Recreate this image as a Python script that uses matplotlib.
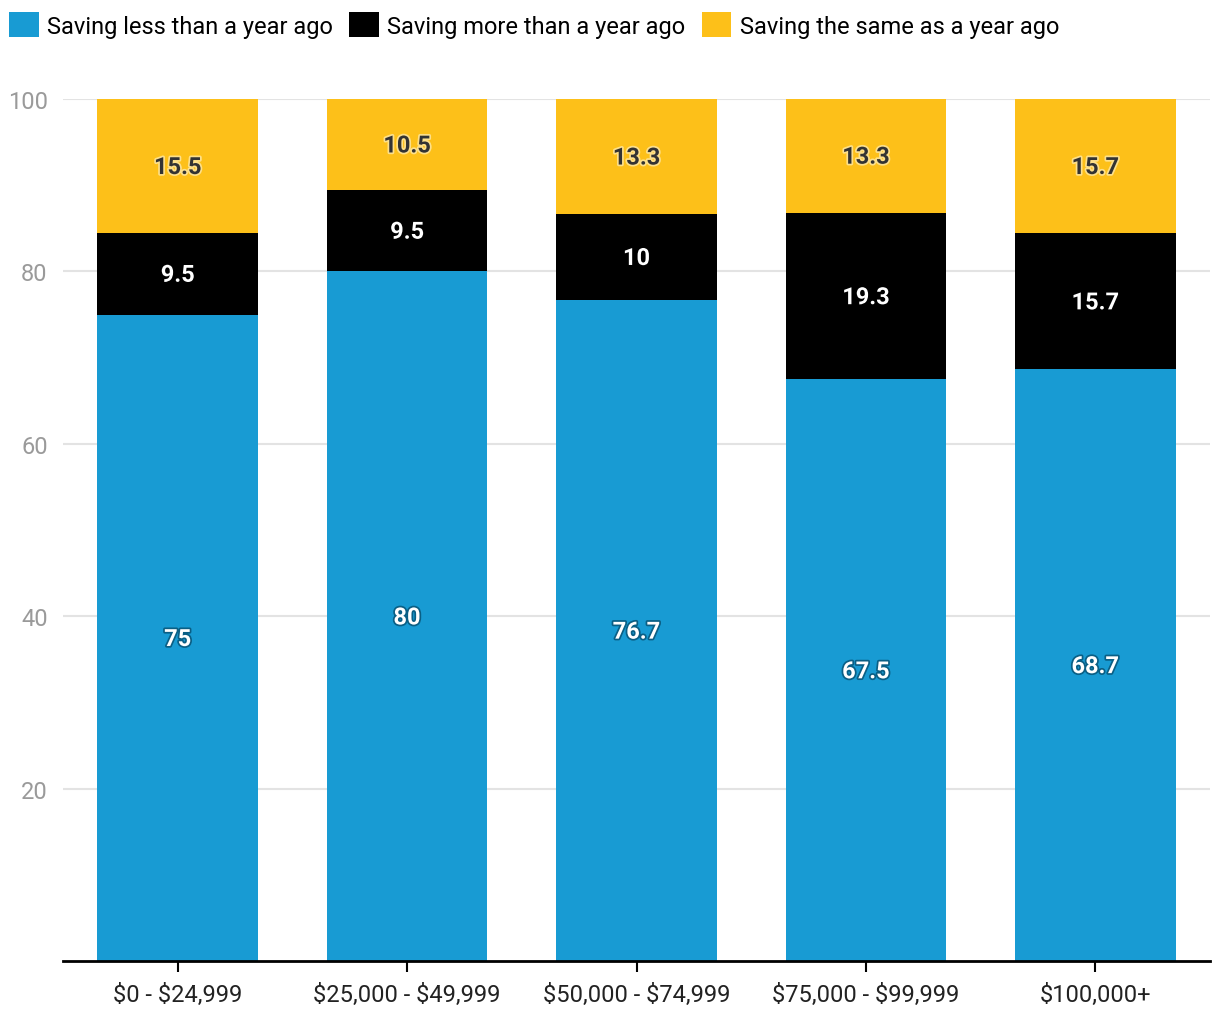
import matplotlib.pyplot as plt
import matplotlib.patheffects as pe
import numpy as np

plt.rcParams["font.family"] = ["Roboto", "DejaVu Sans"]
plt.rcParams["text.parse_math"] = False

categories = ["$0 - $24,999", "$25,000 - $49,999", "$50,000 - $74,999",
              "$75,000 - $99,999", "$100,000+"]
series_names = ["Saving less than a year ago", "Saving more than a year ago",
                "Saving the same as a year ago"]
less = [75, 80, 76.7, 67.5, 68.7]
more = [9.5, 9.5, 10, 19.3, 15.7]
same = [15.5, 10.5, 13.3, 13.3, 15.7]

colors = ["#189BD3", "#000000", "#FDC019"]
text_colors = ["white", "white", "#333333"]
glow_colors = ["#0a5f85", "#000000", "#FDE08A"]

fig = plt.figure(figsize=(12.2, 10.2), dpi=100)
ax = fig.add_axes([63 / 1220, 58 / 1020, 1147 / 1220, 862 / 1020])

x = np.arange(len(categories))
bottom = np.zeros(len(categories))
for vals, name, col, tcol, gcol in zip([less, more, same], series_names,
                                       colors, text_colors, glow_colors):
    vals = np.array(vals)
    ax.bar(x, vals, width=0.7, bottom=bottom, color=col, label=name, zorder=2)
    for xi, b, v in zip(x, bottom, vals):
        ax.text(xi, b + v / 2 - 0.2, f"{v:g}", ha="center", va="center",
                color=tcol, fontsize=17, fontweight="bold", zorder=3,
                path_effects=[pe.withStroke(linewidth=2.5, foreground=gcol)])
    bottom += vals

ax.set_xlim(-0.5, 4.5)
ax.set_ylim(0, 100)
ax.set_yticks([20, 40, 60, 80, 100])
ax.yaxis.grid(True, color="#e3e3e3", linewidth=1.5, zorder=0)
ax.tick_params(axis="y", length=0, labelsize=17, labelcolor="#9a9a9a", pad=11)
ax.set_xticks(x)
ax.set_xticklabels(categories)
ax.tick_params(axis="x", length=8, width=1.5, labelsize=17,
               labelcolor="#222222", pad=8)
for s in ["top", "right", "left"]:
    ax.spines[s].set_visible(False)
ax.spines["bottom"].set_linewidth(2)

fig.legend(loc="upper left", bbox_to_anchor=(-0.006, 1.003), ncol=3, frameon=False,
           fontsize=17, handlelength=1.25, handleheight=1.25,
           handletextpad=0.35, columnspacing=0.7, borderaxespad=0.3)

fig.savefig("out.png", dpi=100)
